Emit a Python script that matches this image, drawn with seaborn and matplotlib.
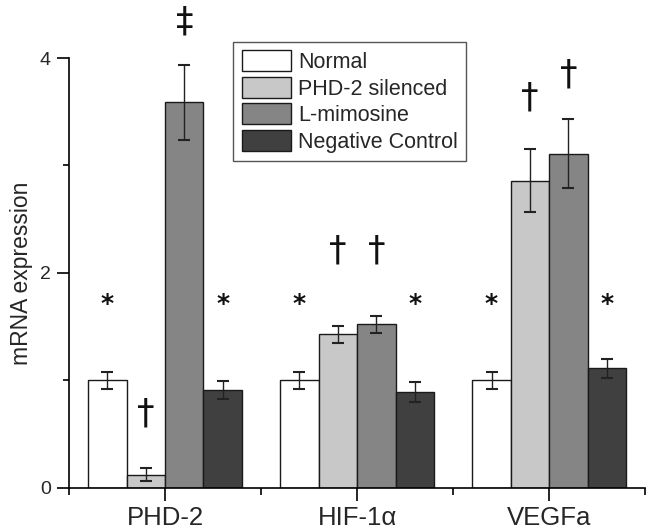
import matplotlib
matplotlib.use("Agg")
import matplotlib.pyplot as plt
import seaborn as sns
import pandas as pd
from matplotlib.ticker import FixedLocator

genes = ["PHD-2", "HIF-1α", "VEGFa"]
groups = ["Normal", "PHD-2 silenced", "L-mimosine", "Negative Control"]
colors = ["#ffffff", "#c8c8c8", "#858585", "#404040"]

# values[group][gene]
normal_vals = [1.00, 1.00, 1.00]
silenced_vals = [0.12, 1.43, 2.86]
mimosine_vals = [3.59, 1.52, 3.11]
negctrl_vals = [0.91, 0.89, 1.11]

normal_err = [0.08, 0.08, 0.08]
silenced_err = [0.06, 0.08, 0.29]
mimosine_err = [0.35, 0.08, 0.32]
negctrl_err = [0.085, 0.09, 0.09]

# significance marks per group and gene, with their heights
normal_marks = ["*", "*", "*"]
silenced_marks = ["†", "†", "†"]
mimosine_marks = ["‡", "†", "†"]
negctrl_marks = ["*", "*", "*"]
normal_mark_y = [1.75, 1.75, 1.75]
silenced_mark_y = [0.69, 2.21, 3.63]
mimosine_mark_y = [4.34, 2.21, 3.85]
negctrl_mark_y = [1.75, 1.75, 1.75]

vals = [normal_vals, silenced_vals, mimosine_vals, negctrl_vals]
errs = [normal_err, silenced_err, mimosine_err, negctrl_err]
marks = [normal_marks, silenced_marks, mimosine_marks, negctrl_marks]
mark_y = [normal_mark_y, silenced_mark_y, mimosine_mark_y, negctrl_mark_y]

rows = []
for g, gv in zip(groups, vals):
    for gene, v in zip(genes, gv):
        rows.append({"gene": gene, "group": g, "value": v})
df = pd.DataFrame(rows)

sns.set_style("ticks")
plt.rcParams["font.family"] = ["Liberation Sans", "DejaVu Sans"]

fig = plt.figure(figsize=(6.53, 5.30), dpi=100)
ax = fig.add_axes([0.1057, 0.0798, 0.8823, 0.8106])

sns.barplot(data=df, x="gene", y="value", hue="group", order=genes,
            hue_order=groups, palette=colors, edgecolor="#1a1a1a",
            linewidth=1.0, errorbar=None, ax=ax, width=0.8, saturation=1)

bar_containers = list(ax.containers)
for ci, cont in enumerate(bar_containers):
    for pi, patch in enumerate(cont.patches):
        xc = patch.get_x() + patch.get_width() / 2
        h = patch.get_height()
        ax.errorbar(xc, h, yerr=errs[ci][pi], fmt="none", ecolor="#222222",
                    elinewidth=1.0, capsize=4.5, capthick=1.5, zorder=5)
        m = marks[ci][pi]
        if m == "*":
            ax.text(xc, mark_y[ci][pi] - 0.04, m, ha="center", va="center",
                    fontsize=18, fontweight="bold", family="DejaVu Sans",
                    color="#111111", clip_on=False)
        else:
            ax.text(xc, mark_y[ci][pi], m, ha="center", va="center",
                    fontsize=25, family="DejaVu Sans", color="#111111",
                    clip_on=False)

ax.set_xlim(-0.5, 2.5)
ax.set_ylim(0, 4)
ax.set_yticks([0, 2, 4])
ax.yaxis.set_minor_locator(FixedLocator([1, 3]))
ax.xaxis.set_minor_locator(FixedLocator([-0.5, 0.5, 1.5, 2.5]))
ax.tick_params(axis="y", which="major", length=9, width=1.2, labelsize=14, pad=4, color="black")
ax.tick_params(axis="y", which="minor", length=4, width=1.2, color="black")
ax.tick_params(axis="x", which="major", length=9, width=1.2, labelsize=18.5, pad=4, color="black")
ax.tick_params(axis="x", which="minor", length=5, width=1.2, color="black")
for s in ["top", "right"]:
    ax.spines[s].set_visible(False)
for s in ["left", "bottom"]:
    ax.spines[s].set_linewidth(1.2)
    ax.spines[s].set_color("black")

ax.set_xlabel("")
ax.set_ylabel("mRNA expression", fontsize=16.5, labelpad=5)

handles = [c.patches[0] for c in bar_containers]
leg = ax.legend(handles, groups, loc="upper left", bbox_to_anchor=(0.285, 1.038),
                fontsize=15.5, frameon=True, fancybox=False,
                handlelength=2.3, handleheight=1.1, handletextpad=0.3,
                labelspacing=0.18, borderpad=0.4, borderaxespad=0)
leg.get_frame().set_edgecolor("#555555")
leg.get_frame().set_linewidth(1.0)
leg.get_frame().set_alpha(1)

fig.savefig("out.png", dpi=100)
